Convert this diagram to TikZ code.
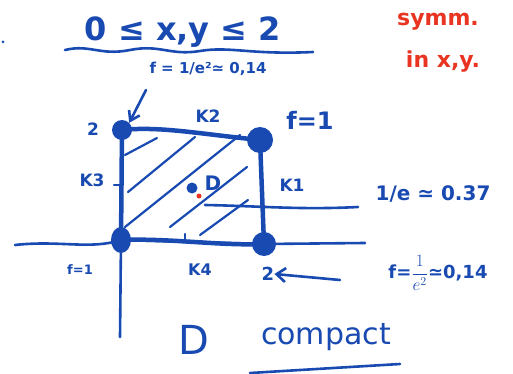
\documentclass[tikz,border=0pt]{standalone}
\usepackage{fontspec}
\setmainfont{DejaVu Sans}
\usetikzlibrary{arrows.meta,shapes.geometric}
\definecolor{ink}{RGB}{24,74,178}
\definecolor{redink}{RGB}{232,52,32}
\tikzset{
  hand/.style={draw=ink, line width=2.6pt, line cap=round, line join=round},
  edge/.style={draw=ink, line width=4.5pt, line cap=round, line join=round},
  hatch/.style={draw=ink, line width=2.2pt, line cap=round},
  dot/.style={circle, fill=ink, inner sep=0pt},
  lbl/.style={text=ink, inner sep=0pt},
  rlbl/.style={text=redink, inner sep=0pt},
}
\begin{document}
\begin{tikzpicture}[x=1pt,y=-1pt]
\useasboundingbox[fill=white] (0,0) rectangle (513,374);
% title
\node[lbl, font=\fontsize{32}{34}\selectfont\bfseries] (title) at (183,32) {0 ≤ x,y ≤ 2};
\draw[hand] (65,50) .. controls (90,44) and (100,56) .. (130,50) .. controls (160,44) and (170,56) .. (200,51) .. controls (230,46) and (250,55) .. (313,52);
% red note
\node[rlbl, font=\fontsize{22}{24}\selectfont\bfseries] (symm) at (438,22) {symm.};
\node[rlbl, font=\fontsize{22}{24}\selectfont\bfseries] (inxy) at (443,62) {in x,y.};
\fill[ink] (3,42) circle (1.5);
% corners
\node[dot, minimum size=20pt] (tl) at (122,130) {};
\node[dot, minimum size=26pt] (tr) at (260,140) {};
\node[ellipse, fill=ink, inner sep=0pt, minimum width=20pt, minimum height=26pt] (bl) at (121,240) {};
\node[dot, minimum size=24pt] (br) at (264,244) {};
% axes
\coordinate (xa) at (15,245);
\coordinate (xb) at (365,243);
\coordinate (yb) at (120,337);
\draw[hand] (xa) .. controls (60,240) and (90,250) .. (bl.center) -- (br.center) -- (xb);
\draw[hand] (bl.center) -- (yb);
% square edges
\draw[edge] (tl.center) .. controls (160,126) and (200,134) .. (tr.center);
\draw[edge] (tr.center) -- (br.center);
\draw[edge] (br.center) .. controls (220,246) and (170,238) .. (bl.center);
\draw[edge] (bl.center) -- (tl.center);
% hatching
\draw[hatch] (125,155) -- (157,138);
\draw[hatch] (128,192) -- (195,137);
\draw[hatch] (125,227) -- (240,135);
\draw[hatch] (170,227) -- (247,167);
\draw[hatch] (200,235) -- (248,200);
% ticks
\draw[hatch] (114,185) -- (122,185);
\draw[hatch] (185,234) -- (185,242);
% 1/e level line
\coordinate (la) at (205,205);
\coordinate (lb) at (358,207);
\draw[hand] (la) .. controls (260,206) and (300,210) .. (lb);
% point D
\node[dot, minimum size=11pt] (pd) at (192,188) {};
\fill[redink] (199,196) circle (2.5);
\node[lbl, font=\fontsize{20}{22}\selectfont\bfseries] (dl) at (213,183) {D};
% labels
\node[lbl, font=\fontsize{17}{18}\selectfont\bfseries] (two1) at (93,129) {2};
\node[lbl, font=\fontsize{17}{18}\selectfont\bfseries] (k2) at (208,116) {K2};
\node[lbl, font=\fontsize{24}{26}\selectfont\bfseries] (f1) at (310,120) {f=1};
\node[lbl, font=\fontsize{17}{18}\selectfont\bfseries] (k3) at (92,180) {K3};
\node[lbl, font=\fontsize{17}{18}\selectfont\bfseries] (k1) at (292,185) {K1};
\node[lbl, font=\fontsize{20}{22}\selectfont\bfseries] (le) at (433,194) {1/e ≃ 0.37};
\node[lbl, font=\fontsize{13}{14}\selectfont\bfseries] (f1b) at (80,270) {f=1};
\node[lbl, font=\fontsize{16}{18}\selectfont\bfseries] (k4) at (200,270) {K4};
\node[lbl, font=\fontsize{18}{20}\selectfont\bfseries] (two2) at (268,274) {2};
\node[lbl, font=\fontsize{18}{20}\selectfont\bfseries] (fe2) at (438,273) {f=$\displaystyle\frac{1}{e^2}$≃0,14};
\node[lbl, font=\fontsize{15}{16}\selectfont\bfseries] (fe1) at (208,69) {f = 1/e²≃ 0,14};
% arrows
\coordinate (a1s) at (146,90);
\draw[hand, -{Straight Barb[length=9pt,width=12pt]}] (a1s) -- (tl.north east);
\coordinate (a2s) at (340,280);
\draw[hand, -{Straight Barb[length=9pt,width=14pt]}] (a2s) -- (two2.east);
% bottom
\node[lbl, font=\fontsize{40}{42}\selectfont] (bigd) at (194,340) {D};
\node[lbl, font=\fontsize{30}{32}\selectfont] (comp) at (326,337) {compact};
\draw[hand] (250,373) -- (400,364);
\end{tikzpicture}
\end{document}
